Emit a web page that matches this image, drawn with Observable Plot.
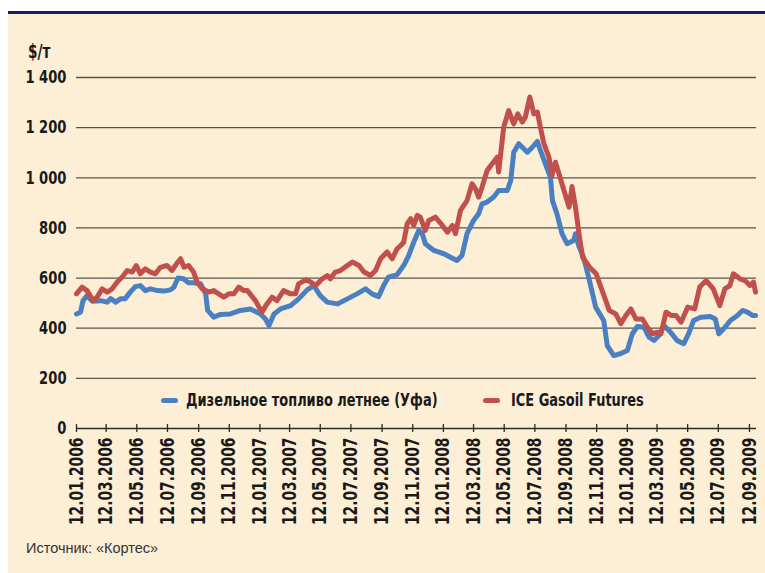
<!DOCTYPE html>
<html>
<head>
<meta charset="utf-8">
<script src="https://cdn.jsdelivr.net/npm/d3@7"></script>
<script src="https://cdn.jsdelivr.net/npm/@observablehq/plot@0.6"></script>
<style>
  body { margin:0; background:#ffffff; width:765px; height:573px; overflow:hidden; position:relative; }
  #frame { position:absolute; left:8px; top:11px; width:757px; height:559px; background:#fdefd6; border-top:3px solid #1c1b5c; }
  #chart { position:absolute; left:0; top:0; }
  .cond { font-family:"DejaVu Sans Condensed","DejaVu Sans",sans-serif; font-weight:bold; color:#1a1a1a; position:absolute; white-space:nowrap; transform-origin:0 50%; transform:scaleX(0.8); line-height:18px; }
  #unit { left:28px; top:42px; font-size:19px; }
  .sw { position:absolute; width:17px; height:5px; border-radius:3px; top:398px; }
  .lg { top:391px; font-size:18px; }
  #source { position:absolute; left:26px; top:540px; font-family:"Liberation Sans",Arial,sans-serif; font-size:14.5px; color:#333; }
</style>
</head>
<body>
<div id="frame"></div>
<div id="chart"></div>
<div id="unit" class="cond">$/т</div>
<span class="sw" style="left:161px;background:#4a80c1"></span>
<span class="cond lg" style="left:186px">Дизельное топливо летнее (Уфа)</span>
<span class="sw" style="left:483px;background:#c14f4c"></span>
<span class="cond lg" style="left:511px">ICE Gasoil Futures</span>
<div id="source">Источник: «Кортес»</div>
<script>
const seriesNames = ["Дизельное топливо летнее (Уфа)", "ICE Gasoil Futures"];
const seriesColors = ["#4a80c1", "#c14f4c"];

const dieselDates = ["2006-01-12","2006-01-20","2006-01-25","2006-02-02","2006-02-12","2006-03-01","2006-03-14","2006-03-21","2006-03-31","2006-04-10","2006-04-19","2006-04-29","2006-05-09","2006-05-19","2006-05-29","2006-06-08","2006-06-22","2006-07-05","2006-07-18","2006-07-25","2006-08-02","2006-08-13","2006-08-23","2006-09-02","2006-09-16","2006-09-26","2006-09-30","2006-10-12","2006-10-26","2006-11-14","2006-12-04","2006-12-24","2007-01-13","2007-01-23","2007-01-30","2007-02-09","2007-02-22","2007-03-14","2007-03-30","2007-04-16","2007-04-29","2007-05-12","2007-05-26","2007-06-15","2007-07-05","2007-07-24","2007-08-10","2007-08-23","2007-09-05","2007-09-15","2007-09-25","2007-10-12","2007-10-25","2007-11-04","2007-11-14","2007-11-24","2007-12-01","2007-12-07","2007-12-24","2008-01-13","2008-01-26","2008-02-08","2008-02-18","2008-02-28","2008-03-12","2008-03-22","2008-03-29","2008-04-08","2008-04-21","2008-05-01","2008-05-18","2008-05-25","2008-05-31","2008-06-10","2008-06-20","2008-06-27","2008-07-07","2008-07-17","2008-07-23","2008-08-02","2008-08-12","2008-08-16","2008-08-25","2008-09-04","2008-09-14","2008-09-27","2008-10-01","2008-10-07","2008-10-17","2008-10-27","2008-11-10","2008-11-26","2008-12-03","2008-12-16","2008-12-29","2009-01-12","2009-01-22","2009-02-01","2009-02-14","2009-02-24","2009-03-06","2009-03-16","2009-03-26","2009-04-08","2009-04-21","2009-05-04","2009-05-14","2009-05-24","2009-06-07","2009-06-26","2009-07-06","2009-07-13","2009-07-23","2009-08-05","2009-08-19","2009-08-29","2009-09-08","2009-09-18","2009-09-24"];
const dieselValues = [457,464,510,530,508,510,504,518,504,518,518,544,566,570,550,557,550,548,553,564,600,597,581,581,577,537,471,444,455,457,471,477,457,437,411,457,477,490,517,553,570,530,504,497,517,537,557,537,526,570,604,614,650,690,743,790,777,737,710,697,683,670,690,777,830,856,896,903,923,949,949,989,1102,1136,1116,1102,1122,1145,1109,1056,1002,909,856,777,737,750,777,730,683,604,484,431,331,291,298,311,378,407,404,364,351,371,411,384,351,338,378,431,444,447,437,378,398,431,451,471,464,451,451];

const iceDates = ["2006-01-12","2006-01-23","2006-02-02","2006-02-14","2006-02-22","2006-03-04","2006-03-14","2006-03-24","2006-04-03","2006-04-13","2006-04-23","2006-05-03","2006-05-11","2006-05-19","2006-05-29","2006-06-08","2006-06-18","2006-06-28","2006-07-11","2006-07-21","2006-07-30","2006-08-07","2006-08-14","2006-08-23","2006-09-02","2006-09-09","2006-09-19","2006-10-02","2006-10-12","2006-10-22","2006-11-01","2006-11-11","2006-11-21","2006-12-01","2006-12-11","2006-12-18","2007-01-03","2007-01-16","2007-01-26","2007-02-05","2007-02-15","2007-02-28","2007-03-14","2007-03-24","2007-03-30","2007-04-13","2007-04-23","2007-05-03","2007-05-16","2007-05-26","2007-06-01","2007-06-11","2007-06-21","2007-07-05","2007-07-15","2007-07-28","2007-08-07","2007-08-20","2007-08-30","2007-09-09","2007-09-22","2007-10-02","2007-10-12","2007-10-19","2007-10-25","2007-11-01","2007-11-08","2007-11-14","2007-11-21","2007-11-27","2007-12-07","2007-12-14","2007-12-27","2008-01-10","2008-01-20","2008-01-30","2008-02-05","2008-02-15","2008-02-28","2008-03-09","2008-03-16","2008-03-22","2008-03-29","2008-04-08","2008-04-18","2008-04-28","2008-05-01","2008-05-11","2008-05-21","2008-05-31","2008-06-08","2008-06-17","2008-06-23","2008-07-02","2008-07-10","2008-07-17","2008-07-23","2008-07-30","2008-08-09","2008-08-15","2008-08-22","2008-08-29","2008-09-08","2008-09-18","2008-09-24","2008-10-01","2008-10-09","2008-10-15","2008-10-29","2008-11-11","2008-11-24","2008-12-07","2008-12-20","2008-12-30","2009-01-09","2009-01-19","2009-01-29","2009-02-11","2009-02-21","2009-03-03","2009-03-13","2009-03-20","2009-03-30","2009-04-09","2009-04-19","2009-04-29","2009-05-12","2009-05-26","2009-06-05","2009-06-18","2009-07-02","2009-07-15","2009-07-25","2009-08-04","2009-08-11","2009-08-24","2009-09-03","2009-09-13","2009-09-20","2009-09-24"];
const iceValues = [537,564,550,510,524,557,544,557,584,604,630,624,650,617,637,624,617,643,650,630,657,677,643,650,624,584,557,544,550,537,524,537,537,564,550,550,510,464,497,524,510,550,537,537,577,593,584,570,597,610,597,624,630,650,664,650,624,610,630,677,704,677,717,730,743,817,837,810,850,843,790,830,843,810,783,810,777,870,909,976,956,923,963,1029,1056,1082,1023,1202,1268,1215,1255,1222,1242,1322,1255,1262,1202,1136,1082,1009,1062,1016,949,883,965,880,760,683,643,617,544,471,457,418,451,477,437,437,404,378,384,378,464,451,451,424,484,477,564,590,557,490,557,570,617,597,590,570,584,544];

const yTicks = [0,200,400,600,800,1000,1200,1400];
const xTickDates = ["2006-01-12","2006-03-12","2006-05-12","2006-07-12","2006-09-12","2006-11-12","2007-01-12","2007-03-12","2007-05-12","2007-07-12","2007-09-12","2007-11-12","2008-01-12","2008-03-12","2008-05-12","2008-07-12","2008-09-12","2008-11-12","2009-01-12","2009-03-12","2009-05-12","2009-07-12","2009-09-12"];
const xDomain = ["2006-01-12","2009-09-26"];

const parse = d3.utcParse("%Y-%m-%d");
const rows = [
  ...dieselDates.map((d,i) => ({date: parse(d), value: dieselValues[i], series: seriesNames[0]})),
  ...iceDates.map((d,i) => ({date: parse(d), value: iceValues[i], series: seriesNames[1]}))
];
const ticks = xTickDates.map(parse);
const fmtY = d => d3.format(",")(d).replace(/,/g, " ");
const condFont = '"DejaVu Sans Condensed","DejaVu Sans",sans-serif';

const chart = Plot.plot({
  width: 765,
  height: 540,
  marginLeft: 76,
  marginRight: 9,
  marginTop: 77,
  marginBottom: 112,
  style: {background: "transparent", overflow: "visible", fontFamily: condFont, color: "#1a1a1a"},
  x: {type: "utc", domain: xDomain.map(parse)},
  y: {domain: [0, 1400]},
  marks: [
    Plot.ruleY(yTicks.filter(d => d > 0), {stroke: "#5a544c", strokeWidth: 1.3}),
    Plot.ruleY([0], {stroke: "#2a2a2a", strokeWidth: 1.3}),
    Plot.ruleX(ticks, {y1: -16, y2: 16, stroke: "#2a2a2a", strokeWidth: 1.3}),
    Plot.axisY({ticks: yTicks, tickSize: 0, tickPadding: 10, tickFormat: fmtY, fontSize: 18, fontWeight: "bold", label: null}),
    Plot.axisX({ticks: ticks, tickSize: 0, tickPadding: 9, tickRotate: -90, tickFormat: d3.utcFormat("%d.%m.%Y"), fontSize: 19, fontWeight: "bold", label: null}),
    Plot.line(rows.filter(r => r.series === seriesNames[0]), {x: "date", y: "value", stroke: seriesColors[0], strokeWidth: 5, strokeLinejoin: "round", strokeLinecap: "round"}),
    Plot.line(rows.filter(r => r.series === seriesNames[1]), {x: "date", y: "value", stroke: seriesColors[1], strokeWidth: 5, strokeLinejoin: "round", strokeLinecap: "round"})
  ]
});
document.getElementById("chart").appendChild(chart);
chart.querySelectorAll('g[aria-label="x-axis tick label"] text, g[aria-label="y-axis tick label"] text').forEach(t => {
  const L = t.getComputedTextLength();
  t.setAttribute("textLength", L * 0.81);
  t.setAttribute("lengthAdjust", "spacingAndGlyphs");
});
</script>
</body>
</html>
